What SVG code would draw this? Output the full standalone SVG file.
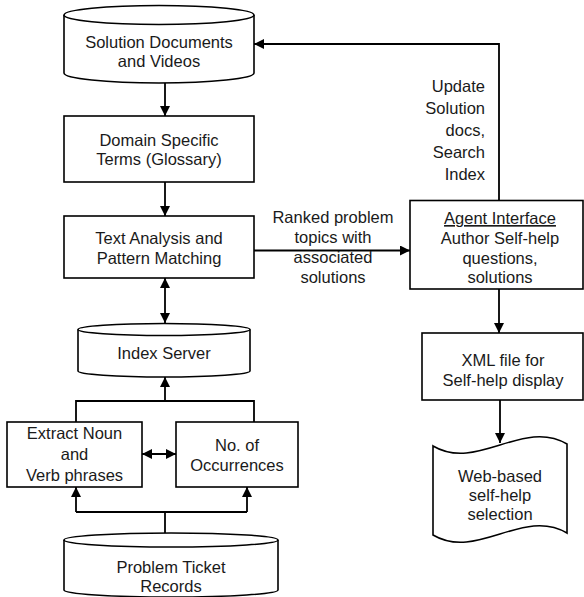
<svg xmlns="http://www.w3.org/2000/svg" width="584" height="597" viewBox="0 0 584 597">
  <style>
    .shape { fill: #ffffff; stroke: #000000; stroke-width: 1.6; }
    .edge { fill: none; stroke: #000000; stroke-width: 1.8; }
    text { font-family: "Liberation Sans", Arial, sans-serif; font-size: 16.5px; fill: #1a1a1a; }
    .c { text-anchor: middle; }
    .r { text-anchor: end; }
  </style>
  <defs>
    <marker id="arrow" viewBox="0 0 10 10" refX="10" refY="5" markerWidth="10" markerHeight="10" markerUnits="userSpaceOnUse" orient="auto-start-reverse">
      <path d="M0,0 L10,5 L0,10 Z" fill="#000000"/>
    </marker>
  </defs>
  <rect width="584" height="597" fill="#ffffff"/>

  <!-- connectors -->
  <g id="connectors">
    <path class="edge" d="M165,83 L165,116" marker-end="url(#arrow)"/>
    <path class="edge" d="M165,182 L165,216" marker-end="url(#arrow)"/>
    <path class="edge" d="M165,278 L165,323" marker-start="url(#arrow)" marker-end="url(#arrow)"/>
    <path class="edge" d="M76,422 L76,401 L254,401 L254,422"/>
    <path class="edge" d="M165,401 L165,377" marker-end="url(#arrow)"/>
    <path class="edge" d="M142,454 L176,454" marker-start="url(#arrow)" marker-end="url(#arrow)"/>
    <path class="edge" d="M165,533 L165,512"/>
    <path class="edge" d="M76,512 L247,512"/>
    <path class="edge" d="M76,512 L76,487" marker-end="url(#arrow)"/>
    <path class="edge" d="M247,512 L247,487" marker-end="url(#arrow)"/>
    <path class="edge" d="M254,250.5 L410,250.5" marker-end="url(#arrow)"/>
    <path class="edge" d="M499,200 L499,44 L254,44" marker-end="url(#arrow)"/>
    <path class="edge" d="M499,289 L499,333" marker-end="url(#arrow)"/>
    <path class="edge" d="M500,400 L500,443" marker-end="url(#arrow)"/>
    <text class="c" x="333" y="223">Ranked problem</text>
    <text class="c" x="333" y="243">topics with</text>
    <text class="c" x="333" y="263">associated</text>
    <text class="c" x="333" y="283">solutions</text>
    <text class="r" x="485" y="92">Update</text>
    <text class="r" x="485" y="114">Solution</text>
    <text class="r" x="485" y="136">docs,</text>
    <text class="r" x="485" y="158">Search</text>
    <text class="r" x="485" y="180">Index</text>
  </g>

  <!-- solution store -->
  <g id="solution-docs">
    <path class="shape" d="M64,15 L64,73 A95,10 0 0 0 254,73 L254,15"/>
    <ellipse class="shape" cx="159" cy="15" rx="95" ry="9.5"/>
    <text class="c" x="159" y="48">Solution Documents</text>
    <text class="c" x="159" y="67">and Videos</text>
  </g>

  <g id="glossary">
    <rect class="shape" x="64" y="116" width="190" height="66"/>
    <text class="c" x="159" y="146">Domain Specific</text>
    <text class="c" x="159" y="165">Terms (Glossary)</text>
  </g>

  <g id="text-analysis">
    <rect class="shape" x="64" y="216" width="190" height="62"/>
    <text class="c" x="159" y="244">Text Analysis and</text>
    <text class="c" x="159" y="264">Pattern Matching</text>
  </g>

  <g id="index-server">
    <path class="shape" d="M78,329.5 L78,371 A86,6 0 0 0 250,371 L250,329.5"/>
    <ellipse class="shape" cx="164" cy="329.5" rx="86" ry="6"/>
    <text class="c" x="164" y="359">Index Server</text>
  </g>

  <g id="extract-phrases">
    <rect class="shape" x="7" y="422" width="135" height="65"/>
    <text class="c" x="74.5" y="439">Extract Noun</text>
    <text class="c" x="74.5" y="460">and</text>
    <text class="c" x="74.5" y="481">Verb phrases</text>
  </g>

  <g id="occurrences">
    <rect class="shape" x="176" y="422" width="122" height="65"/>
    <text class="c" x="237" y="451">No. of</text>
    <text class="c" x="237" y="471">Occurrences</text>
  </g>

  <g id="ticket-records">
    <path class="shape" d="M64,540 L64,590 A107,7 0 0 0 278,590 L278,540"/>
    <ellipse class="shape" cx="171" cy="540" rx="107" ry="7"/>
    <text class="c" x="171" y="573">Problem Ticket</text>
    <text class="c" x="171" y="592">Records</text>
  </g>

  <g id="agent-interface">
    <rect class="shape" x="410" y="200.5" width="173" height="88.5"/>
    <text class="c" x="500" y="224" text-decoration="underline">Agent Interface</text>
    <text class="c" x="500" y="244">Author Self-help</text>
    <text class="c" x="500" y="264">questions,</text>
    <text class="c" x="500" y="283">solutions</text>
  </g>

  <g id="xml-file">
    <rect class="shape" x="422" y="333" width="161" height="67"/>
    <text class="c" x="503" y="366">XML file for</text>
    <text class="c" x="503" y="386">Self-help display</text>
  </g>

  <g id="web-selection">
    <path class="shape" d="M433,446 C477,472 523,418 567,444 L567,533 C523,507 477,561 433,535 Z"/>
    <text class="c" x="500" y="482">Web-based</text>
    <text class="c" x="500" y="501">self-help</text>
    <text class="c" x="500" y="520">selection</text>
  </g>
</svg>
